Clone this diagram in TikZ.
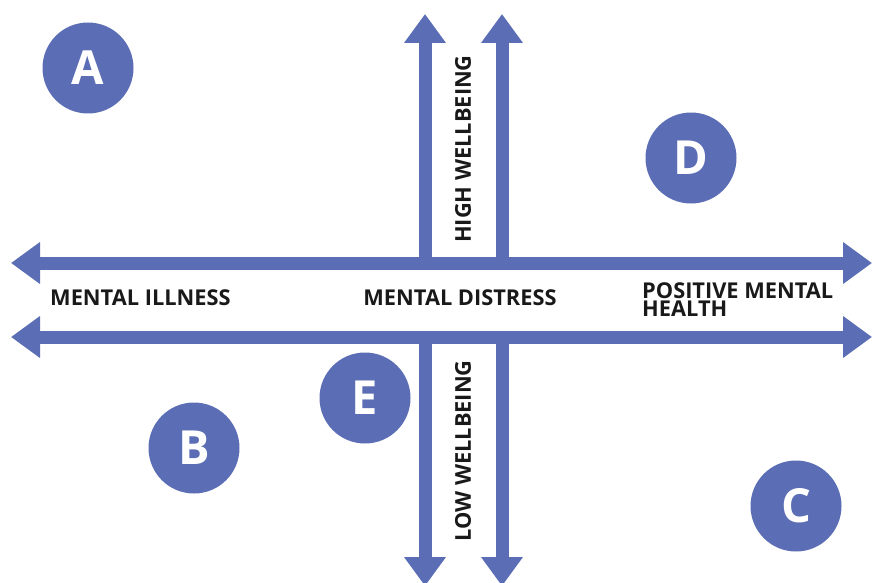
\documentclass[tikz,border=0pt]{standalone}
\usepackage{fontspec}
\setmainfont{Open Sans}
\usetikzlibrary{arrows.meta}
\definecolor{axisblue}{HTML}{5B6DB5}
\tikzset{
  axis/.style={draw=axisblue, line width=13pt, line cap=butt},
  head/.style={-{Triangle[length=29pt 0 0, width=40pt 0 0]}},
  bothheads/.style={{Triangle[length=29pt 0 0, width=40pt 0 0]}-{Triangle[length=29pt 0 0, width=40pt 0 0]}},
  badge/.style={circle, fill=axisblue, minimum size=91pt, inner sep=0pt, text=white, font=\bfseries\fontsize{47}{47}\selectfont},
  lbl/.style={font=\bfseries\fontsize{21.8}{18}\selectfont, text=black!90, inner sep=0pt},
}
\begin{document}
\begin{tikzpicture}[x=1pt,y=-1pt]
\useasboundingbox (0,0) rectangle (872,583);
% horizontal axes
\coordinate (hl1) at (11,263);
\coordinate (hr1) at (872,263);
\coordinate (hl2) at (11,337);
\coordinate (hr2) at (872,337);
\draw[axis,bothheads] (hl1) -- (hr1);
\draw[axis,bothheads] (hl2) -- (hr2);
% vertical axes
\coordinate (vlb) at (425,263);
\coordinate (vlt) at (425,14);
\coordinate (vrb) at (502,263);
\coordinate (vrt) at (502,14);
\coordinate (wlt) at (425,337);
\coordinate (wlb) at (425,586);
\coordinate (wrt) at (502,337);
\coordinate (wrb) at (502,586);
\draw[axis,head] (vlb) -- (vlt);
\draw[axis,head] (vrb) -- (vrt);
\draw[axis,head] (wlt) -- (wlb);
\draw[axis,head] (wrt) -- (wrb);
% labels
\node[lbl, anchor=west] (mi) at (50,298) {MENTAL ILLNESS};
\node[lbl] (md) at (460,298) {MENTAL DISTRESS};
\node[lbl, anchor=west, align=left] (pmh) at (642,300) {POSITIVE MENTAL\\HEALTH};
\node[lbl, rotate=90] (hw) at (463,149) {HIGH WELLBEING};
\node[lbl, rotate=90] (lw) at (463,451) {LOW WELLBEING};
% badges
\node[badge] (A) at (88,68) {A};
\node[badge] (D) at (691,158) {D};
\node[badge] (B) at (194,448) {B};
\node[badge] (E) at (365,398) {E};
\node[badge] (C) at (796,506) {C};
\end{tikzpicture}
\end{document}
